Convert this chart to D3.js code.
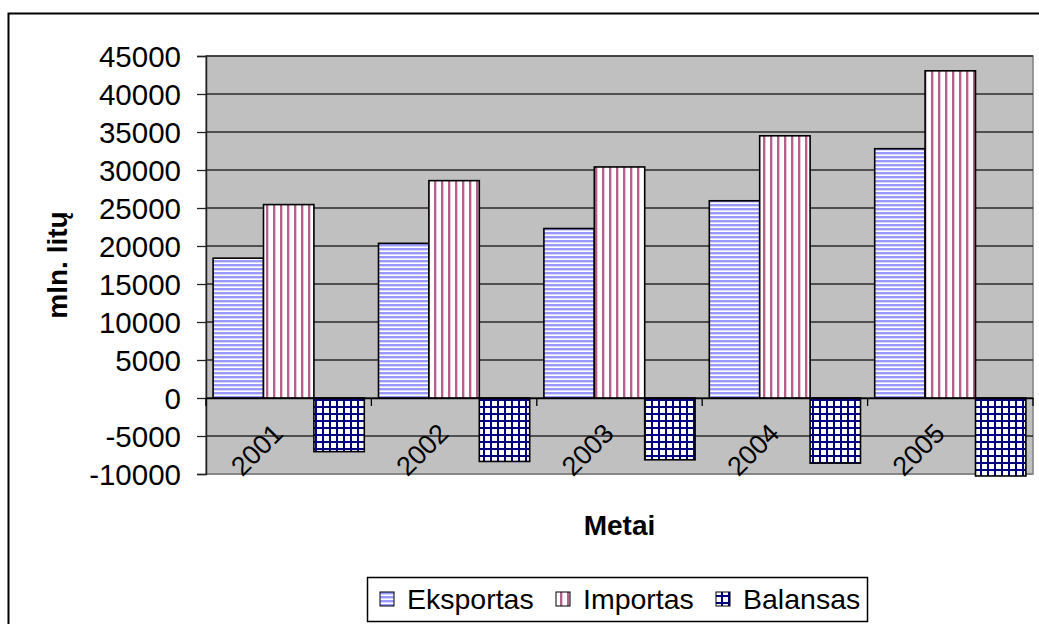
<!DOCTYPE html>
<html><head><meta charset="utf-8">
<script src="https://cdn.jsdelivr.net/npm/d3@7"></script>
<style>html,body{margin:0;padding:0;background:#fff;overflow:hidden}</style>
</head><body>
<svg id="c" width="1039" height="624"></svg>
<script>
const years = ["2001", "2002", "2003", "2004", "2005"];
const seriesNames = ["Eksportas", "Importas", "Balansas"];
const eksportas = [18400, 20350, 22300, 25950, 32800];
const importas = [25450, 28600, 30400, 34500, 43050];
const balansas = [-7060, -8350, -8130, -8570, -10260];
const yTickValues = [45000, 40000, 35000, 30000, 25000, 20000, 15000, 10000, 5000, 0, -5000, -10000];
const yTitle = "mln. litų";
const xTitle = "Metai";

const seriesValues = [eksportas, importas, balansas];
const font = "'Liberation Sans', Arial, sans-serif";

const svg = d3.select("#c");
const plot = {l: 206, r: 1033, t: 56, b: 474};

// patterns
const defs = svg.append("defs");
const p1 = defs.append("pattern").attr("id", "pEks").attr("patternUnits", "userSpaceOnUse")
  .attr("width", 8).attr("height", 4);
p1.append("rect").attr("width", 8).attr("height", 4).attr("fill", "#ffffff");
p1.append("rect").attr("y", 0).attr("width", 8).attr("height", 2).attr("fill", "#9999ff");
p1.append("rect").attr("y", 2).attr("width", 8).attr("height", 1).attr("fill", "#d6d6ff");
const p2 = defs.append("pattern").attr("id", "pImp").attr("patternUnits", "userSpaceOnUse")
  .attr("width", 7).attr("height", 8);
p2.append("rect").attr("width", 7).attr("height", 8).attr("fill", "#ffffff");
p2.append("rect").attr("x", 0).attr("width", 2).attr("height", 8).attr("fill", "#b5608d");
p2.append("rect").attr("x", 2).attr("width", 1).attr("height", 8).attr("fill", "#e3c3d4");
const p3 = defs.append("pattern").attr("id", "pBal").attr("patternUnits", "userSpaceOnUse")
  .attr("width", 7).attr("height", 7);
p3.append("rect").attr("width", 7).attr("height", 7).attr("fill", "#ffffff");
p3.append("rect").attr("x", 0).attr("width", 2).attr("height", 7).attr("fill", "#000080");
p3.append("rect").attr("y", 0).attr("width", 7).attr("height", 2).attr("fill", "#000080");
const fills = ["url(#pEks)", "url(#pImp)", "url(#pBal)"];

// outer border
svg.append("rect").attr("x", 8.5).attr("y", 13.5).attr("width", 1100).attr("height", 700)
  .attr("fill", "#fff").attr("stroke", "#000").attr("stroke-width", 2);

const x = d3.scaleBand().domain(years).range([plot.l, plot.r]).paddingInner(0).paddingOuter(0);
const xs = d3.scaleBand().domain(seriesNames).range([0, x.bandwidth()]).paddingInner(0).paddingOuter(0.141);
const y = d3.scaleLinear().domain([-10000, 45000]).range([plot.b, plot.t]);

// plot background
svg.append("rect").attr("x", plot.l).attr("y", plot.t).attr("width", plot.r - plot.l).attr("height", plot.b - plot.t)
  .attr("fill", "#c0c0c0").attr("stroke", "#808080").attr("stroke-width", 1.5);

// gridlines
svg.append("g").selectAll("line").data(yTickValues).join("line")
  .attr("x1", plot.l).attr("x2", plot.r)
  .attr("y1", d => y(d)).attr("y2", d => y(d))
  .attr("stroke", d => d === -10000 ? "#808080" : "#2a2a2a").attr("stroke-width", 1.3);

// y axis
const yAxis = d3.axisLeft(y).tickValues(yTickValues).tickSize(9).tickPadding(16).tickFormat(d => String(d));
const ga = svg.append("g").attr("transform", `translate(${plot.l},0)`).call(yAxis);
ga.select(".domain").attr("stroke", "#222").attr("stroke-width", 1.5);
ga.selectAll(".tick line").attr("stroke", "#222").attr("stroke-width", 1.3);
ga.selectAll(".tick text").attr("font-family", font).attr("font-size", 29.5).attr("fill", "#000").attr("dy", "0.35em");

// bars
const gBars = svg.append("g");
years.forEach((yr, i) => {
  seriesNames.forEach((s, j) => {
    const v = seriesValues[j][i];
    gBars.append("rect")
      .attr("x", x(yr) + xs(s))
      .attr("width", xs.bandwidth())
      .attr("y", y(Math.max(0, v)))
      .attr("height", Math.abs(y(v) - y(0)))
      .attr("fill", fills[j])
      .attr("stroke", "#000").attr("stroke-width", 1.6);
  });
});

// x axis at zero
const xAxis = d3.axisBottom(x).tickSize(0).tickFormat("");
const gx = svg.append("g").attr("transform", `translate(0,${y(0)})`).call(xAxis);
gx.select(".domain").attr("stroke", "#000").attr("stroke-width", 1.5);
const bounds = years.map(d => x(d)).concat([x(years[years.length - 1]) + x.bandwidth()]);
svg.append("g").selectAll("line").data(bounds).join("line")
  .attr("x1", d => d).attr("x2", d => d).attr("y1", y(0)).attr("y2", y(0) + 8)
  .attr("stroke", "#000").attr("stroke-width", 1.3);

// category labels rotated
svg.append("g").selectAll("text").data(years).join("text")
  .attr("transform", d => `translate(${x(d) + x.bandwidth() / 2 - 4},${y(0) + 37}) rotate(-45)`)
  .attr("text-anchor", "end")
  .attr("font-family", font).attr("font-size", 27).attr("fill", "#000")
  .text(d => d);

// axis titles
svg.append("text").attr("transform", `translate(67,${(plot.t + plot.b) / 2}) rotate(-90)`)
  .attr("text-anchor", "middle").attr("font-family", font).attr("font-size", 28).attr("font-weight", "bold")
  .text(yTitle);
svg.append("text").attr("x", (plot.l + plot.r) / 2).attr("y", 535)
  .attr("text-anchor", "middle").attr("font-family", font).attr("font-size", 28).attr("font-weight", "bold")
  .text(xTitle);

// legend
const lg = svg.append("g");
lg.append("rect").attr("x", 367.5).attr("y", 577.5).attr("width", 500).attr("height", 44)
  .attr("fill", "#fff").attr("stroke", "#000").attr("stroke-width", 1.5);
const legendX = [380, 556, 716];
seriesNames.forEach((s, j) => {
  lg.append("rect").attr("x", legendX[j]).attr("y", 592).attr("width", 14).attr("height", 14)
    .attr("fill", fills[j]).attr("stroke", "#000").attr("stroke-width", 1);
  lg.append("text").attr("x", legendX[j] + 27).attr("y", 609)
    .attr("font-family", font).attr("font-size", 28.5).attr("fill", "#000").text(s);
});
</script>
</body></html>
